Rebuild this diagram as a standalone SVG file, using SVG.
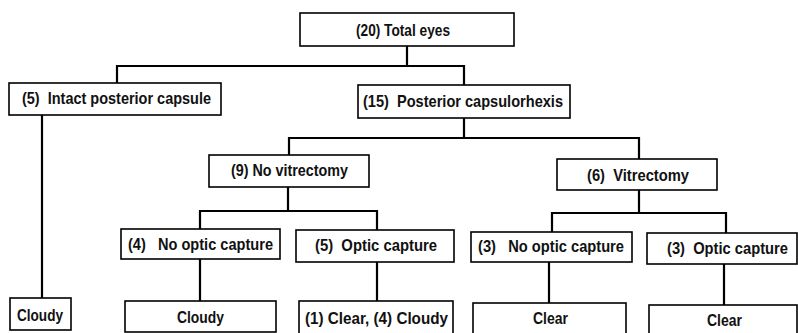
<svg xmlns="http://www.w3.org/2000/svg" width="798" height="333" viewBox="0 0 798 333">
<style>
.box{fill:#fff;stroke:#000;stroke-width:1.6}
.lbl{font-family:"Liberation Sans",Arial,sans-serif;font-size:16.5px;font-weight:bold;fill:#111;white-space:pre}
.con{fill:none;stroke:#000;stroke-width:2.2;stroke-linejoin:miter}
</style>
<rect width="798" height="333" fill="#fff"/>
<g id="connectors">
<path class="con" d="M407,46 V66 M117,83 V66 H464 V85"/>
<path class="con" d="M42,115 V298"/>
<path class="con" d="M464,118 V138 M289,155 V138 H639 V159"/>
<path class="con" d="M288,187 V211 M200,229 V211 H377 V230"/>
<path class="con" d="M639,190 V213 M552,232 V213 H726 V233"/>
<path class="con" d="M200,259 V301 M377,262 V301 M549,262 V303 M724,264 V305"/>
</g>
<g id="n-total"><rect class="box" x="300" y="13" width="214" height="33"/><text class="lbl" x="356" y="36" textLength="94" lengthAdjust="spacingAndGlyphs">(20) Total eyes</text></g>
<g id="n-intact"><rect class="box" x="9" y="83" width="212" height="32"/><text class="lbl" x="22" y="104" textLength="189" lengthAdjust="spacingAndGlyphs">(5)  Intact posterior capsule</text></g>
<g id="n-pcr"><rect class="box" x="358" y="85" width="212" height="33"/><text class="lbl" x="363" y="107" textLength="200" lengthAdjust="spacingAndGlyphs">(15)  Posterior capsulorhexis</text></g>
<g id="n-novit"><rect class="box" x="209" y="155" width="160" height="32"/><text class="lbl" x="231" y="176" textLength="117" lengthAdjust="spacingAndGlyphs">(9) No vitrectomy</text></g>
<g id="n-vit"><rect class="box" x="557" y="159" width="160" height="31"/><text class="lbl" x="587" y="181" textLength="102" lengthAdjust="spacingAndGlyphs">(6)  Vitrectomy</text></g>
<g id="n-noc4"><rect class="box" x="121" y="229" width="159" height="30"/><text class="lbl" x="128" y="250" textLength="145" lengthAdjust="spacingAndGlyphs">(4)   No optic capture</text></g>
<g id="n-oc5"><rect class="box" x="296" y="230" width="158" height="32"/><text class="lbl" x="315" y="251" textLength="122" lengthAdjust="spacingAndGlyphs">(5)  Optic capture</text></g>
<g id="n-noc3"><rect class="box" x="471" y="232" width="161" height="30"/><text class="lbl" x="478" y="252" textLength="146" lengthAdjust="spacingAndGlyphs">(3)   No optic capture</text></g>
<g id="n-oc3"><rect class="box" x="647" y="233" width="150" height="31"/><text class="lbl" x="667" y="254" textLength="121" lengthAdjust="spacingAndGlyphs">(3)  Optic capture</text></g>
<g id="n-cloudy1"><rect class="box" x="10" y="298" width="61" height="32"/><text class="lbl" x="17" y="321" textLength="46" lengthAdjust="spacingAndGlyphs">Cloudy</text></g>
<g id="n-cloudy2"><rect class="box" x="125" y="301" width="151" height="31"/><text class="lbl" x="177" y="323" textLength="47" lengthAdjust="spacingAndGlyphs">Cloudy</text></g>
<g id="n-mixed"><rect class="box" x="299" y="301" width="154" height="36"/><text class="lbl" x="305" y="324" textLength="143" lengthAdjust="spacingAndGlyphs">(1) Clear, (4) Cloudy</text></g>
<g id="n-clear1"><rect class="box" x="473" y="303" width="153" height="36"/><text class="lbl" x="533" y="324" textLength="35" lengthAdjust="spacingAndGlyphs">Clear</text></g>
<g id="n-clear2"><rect class="box" x="649" y="305" width="148" height="36"/><text class="lbl" x="707" y="326" textLength="35" lengthAdjust="spacingAndGlyphs">Clear</text></g>
</svg>
